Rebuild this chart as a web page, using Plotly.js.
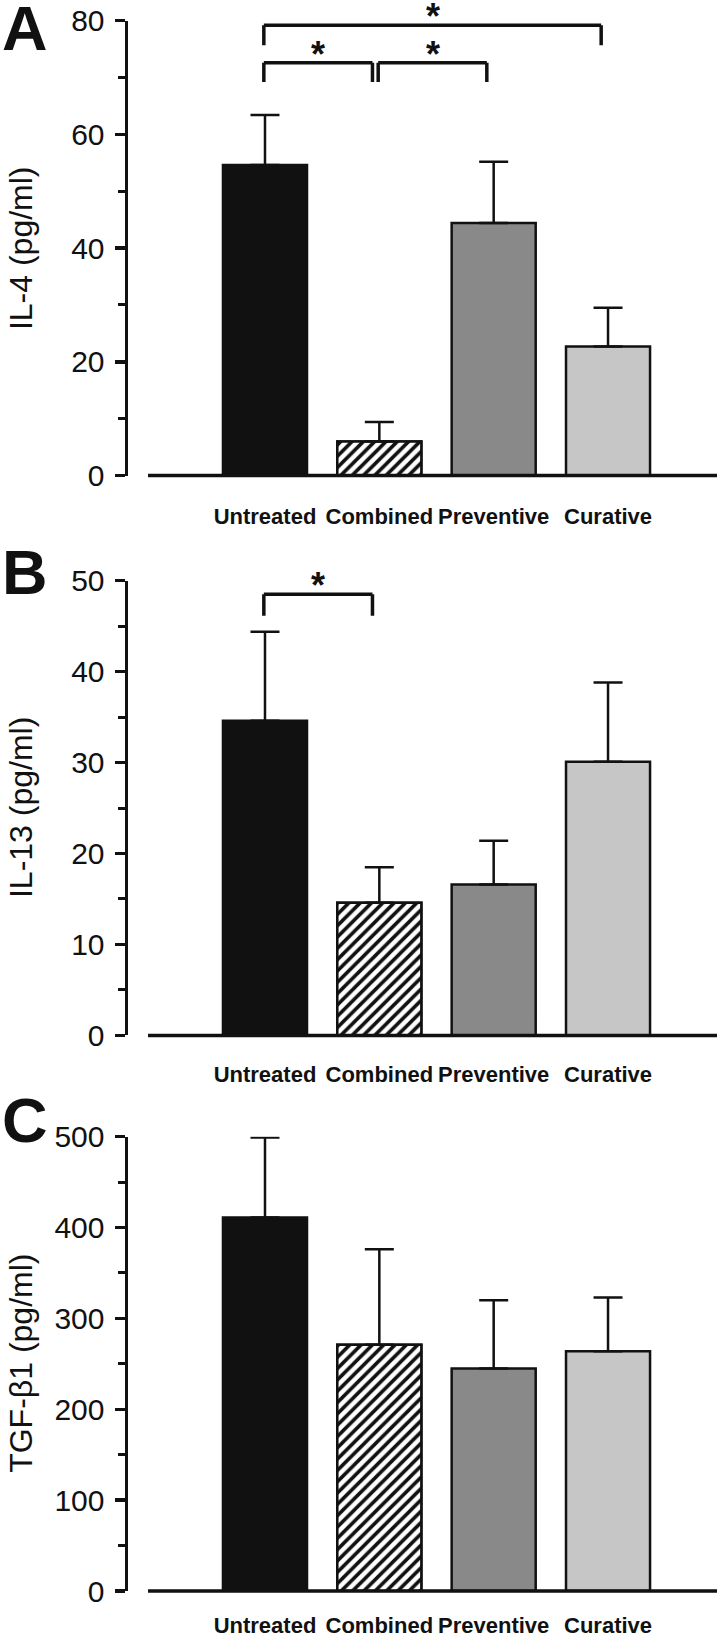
<!DOCTYPE html>
<html>
<head>
<meta charset="utf-8">
<script src="https://cdn.plot.ly/plotly-3.0.1.min.js"></script>
<style>
html,body{margin:0;padding:0;background:#fff;}
#chart{width:717px;height:1640px;}
</style>
</head>
<body>
<div id="chart"></div>
<script>
// ---- data ----
const categories = ['Untreated', 'Combined', 'Preventive', 'Curative'];

const il4Mean = [54.6, 6.0, 44.4, 22.7];
const il4Err  = [8.8, 3.4, 10.8, 6.8];

const il13Mean = [34.6, 14.6, 16.6, 30.1];
const il13Err  = [9.8, 3.9, 4.8, 8.7];

const tgfMean = [411, 271, 245, 264];
const tgfErr  = [88, 105, 75, 59];

const panelTitles = ['IL-4 (pg/ml)', 'IL-13 (pg/ml)', 'TGF-β1 (pg/ml)'];
const panelLetters = ['A', 'B', 'C'];
const yMax = [80, 50, 500];
const yMajor = [20, 10, 100];

// significance comparisons: [from index, to index, bracket level value, leg end value]
const sigA = [[0, 1, 72.6, 69.2], [1, 2, 72.6, 69.2], [0, 3, 79.2, 75.7]];
const sigB = [[0, 1, 48.5, 46.15]];
const sigC = [];

// ---- styling ----
const INK = '#111111';
const barColors = ['#111111', '#ffffff', '#898989', '#c6c6c6'];
const hatchedIndex = 1;
const FONT = 'Liberation Sans, Arial, sans-serif';

const H = 1640, W = 717, L = 128;
const plotW = W - L;
const axisPx = [[20.7, 475.5], [580.7, 1035.4], [1136.7, 1591]];
const letterPx = [28, 572, 1120];
const labelStandoff = [25, 24, 19];

const means = [il4Mean, il13Mean, tgfMean];
const errs = [il4Err, il13Err, tgfErr];
const sigs = [sigA, sigB, sigC];

const data = [];
const layout = {
  width: W, height: H,
  margin: {l: L, r: 0, t: 0, b: 0},
  paper_bgcolor: '#ffffff', plot_bgcolor: '#ffffff',
  showlegend: false,
  barmode: 'overlay',
  bargap: 0.265,
  font: {family: FONT, color: INK},
  shapes: [], annotations: []
};

for (let p = 0; p < 3; p++) {
  const sfx = p === 0 ? '' : String(p + 1);
  const xa = 'x' + sfx, ya = 'y' + sfx;
  // solid bars
  data.push({
    type: 'bar',
    x: categories,
    y: means[p],
    xaxis: xa, yaxis: ya,
    marker: {color: barColors, line: {color: INK, width: 2.5}},
    hoverinfo: 'skip'
  });
  // hatched overlay for the combined-treatment bar
  data.push({
    type: 'bar',
    x: [categories[hatchedIndex]],
    y: [means[p][hatchedIndex]],
    xaxis: xa, yaxis: ya,
    marker: {
      color: '#ffffff',
      line: {color: INK, width: 2.5},
      pattern: {shape: '/', fillmode: 'replace', fgcolor: INK, bgcolor: '#ffffff', size: 8, solidity: 0.45}
    },
    hoverinfo: 'skip'
  });
  // error bars (upper only) drawn on top
  data.push({
    type: 'bar',
    x: categories,
    y: means[p],
    xaxis: xa, yaxis: ya,
    marker: {color: 'rgba(0,0,0,0)', line: {width: 0}},
    error_y: {
      type: 'data', symmetric: false,
      array: errs[p], arrayminus: errs[p].map(() => 0),
      color: INK, thickness: 2.5, width: 14.5
    },
    hoverinfo: 'skip'
  });

  const top = 1 - axisPx[p][0] / H;
  const bot = 1 - axisPx[p][1] / H;

  layout['xaxis' + sfx] = {
    domain: [0, 1], anchor: ya,
    type: 'category',
    range: [-1.198, 3.953],
    showline: false, showgrid: false, zeroline: false,
    ticks: '',
    tickangle: 0,
    ticklabelstandoff: labelStandoff[p],
    tickfont: {family: FONT, size: 22, color: INK, weight: 'bold'},
    fixedrange: true
  };
  layout['yaxis' + sfx] = {
    domain: [bot, top], anchor: xa,
    range: [0, yMax[p]],
    tickmode: 'linear', tick0: 0, dtick: yMajor[p],
    showline: true, linecolor: INK, linewidth: 3.5,
    ticks: 'outside', ticklen: 10, tickwidth: 3.5, tickcolor: INK,
    minor: {dtick: yMajor[p] / 2, ticks: 'outside', ticklen: 7, tickwidth: 3, tickcolor: INK, showgrid: false},
    ticklabelstandoff: 4,
    tickfont: {family: FONT, size: 30, color: INK},
    showgrid: false, zeroline: false,
    fixedrange: true
  };

  // x axis base line (detached from y axis)
  layout.shapes.push({
    type: 'line', xref: xa + ' domain', yref: ya + ' domain',
    x0: 0.034, x1: 1, y0: 0, y1: 0,
    line: {color: INK, width: 3.5}
  });

  // y title
  layout.annotations.push({
    xref: 'paper', yref: ya + ' domain',
    x: (21 - L) / plotW, y: 0.5,
    xanchor: 'center', yanchor: 'middle',
    text: panelTitles[p], textangle: -90, showarrow: false,
    font: {family: FONT, size: 32, color: INK}
  });

  // panel letter
  layout.annotations.push({
    xref: 'paper', yref: 'paper',
    x: (0 - L) / plotW, y: 1 - letterPx[p] / H,
    xanchor: 'left', yanchor: 'middle',
    text: '<b>' + panelLetters[p] + '</b>', showarrow: false,
    font: {family: FONT, size: 63, color: INK}
  });

  // significance brackets
  sigs[p].forEach(s => {
    const x0 = s[0] - 0.01, x1 = s[1] - 0.06;
    const yTop = s[2], yLeg = s[3];
    const ln = {color: INK, width: 3.5};
    layout.shapes.push({type: 'line', xref: xa, yref: ya, x0: x0, x1: x1, y0: yTop, y1: yTop, line: ln});
    layout.shapes.push({type: 'line', xref: xa, yref: ya, x0: x0, x1: x0, y0: yTop, y1: yLeg, line: ln});
    layout.shapes.push({type: 'line', xref: xa, yref: ya, x0: x1, x1: x1, y0: yTop, y1: yLeg, line: ln});
    layout.annotations.push({
      xref: xa, yref: ya, x: (x0 + x1) / 2, y: yTop,
      xanchor: 'center', yanchor: 'bottom', yshift: -14,
      text: '<b>*</b>', showarrow: false,
      font: {family: FONT, size: 36, color: INK}
    });
  });
}

Plotly.newPlot('chart', data, layout, {staticPlot: true, displayModeBar: false});
</script>
</body>
</html>
